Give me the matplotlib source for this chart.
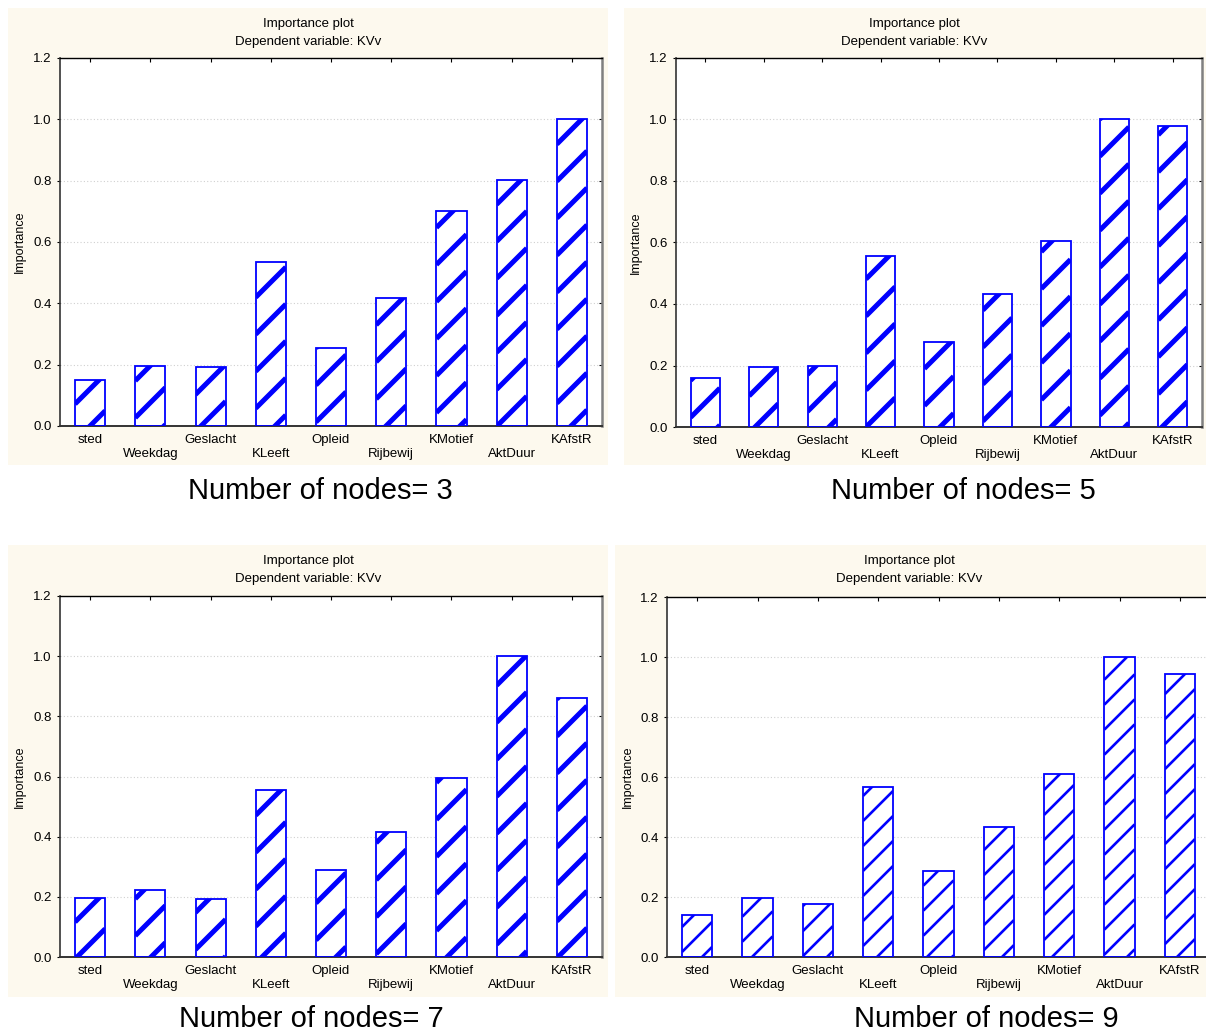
import matplotlib
matplotlib.use("Agg")
import matplotlib.pyplot as plt
import matplotlib.lines as mlines
from matplotlib.lines import Line2D
from matplotlib.patches import Rectangle
from matplotlib.transforms import IdentityTransform
import numpy as np

plt.rcParams['font.family'] = ['Liberation Sans', 'DejaVu Sans']

# Predictor importance per tree size
variables = ["sted", "Weekdag", "Geslacht", "KLeeft", "Opleid",
             "Rijbewij", "KMotief", "AktDuur", "KAfstR"]
imp_nodes3 = [0.150, 0.196, 0.192, 0.535, 0.254, 0.417, 0.700, 0.802, 1.000]
imp_nodes5 = [0.159, 0.195, 0.200, 0.556, 0.276, 0.432, 0.605, 1.000, 0.980]
imp_nodes7 = [0.196, 0.223, 0.193, 0.555, 0.289, 0.416, 0.595, 1.000, 0.861]
imp_nodes9 = [0.140, 0.197, 0.177, 0.567, 0.287, 0.433, 0.610, 1.000, 0.943]
node_counts = [3, 5, 7, 9]
yticks = [0.0, 0.2, 0.4, 0.6, 0.8, 1.0, 1.2]

W, H = 1206, 1034
CREAM = "#fdf9ee"
BLUE = "#0000ff"

# panel layout in pixels: background box, axes box, caption centre, hatch period / width
panels = [
    dict(values=imp_nodes3, bg=(8, 8, 608, 465), ax=(60, 58, 602, 426),
         cap=(320, 491), ylab=20, period=37, hlw=3.6),
    dict(values=imp_nodes5, bg=(624, 8, 1210, 465), ax=(676, 58, 1202, 427),
         cap=(963, 491), ylab=636, period=37, hlw=3.6),
    dict(values=imp_nodes7, bg=(8, 545, 608, 997), ax=(60, 596, 602, 957),
         cap=(311, 1019), ylab=20, period=37, hlw=3.6),
    dict(values=imp_nodes9, bg=(615, 545, 1210, 997), ax=(667, 597, 1210, 957),
         cap=(986, 1019), ylab=628, period=25, hlw=1.9),
]

fig = plt.figure(figsize=(W / 100, H / 100), dpi=100)
fig.patch.set_facecolor("white")


def fig_rect(x0, y0, x1, y1):
    return [x0 / W, 1 - y1 / H, (x1 - x0) / W, (y1 - y0) / H]


def hatch_bars(ax, bars, period, lw, slope=1.0):
    # diagonal stripes clipped to each bar, laid out in pixel space
    for b in bars:
        (px0, py0), (px1, py1) = ax.transData.transform(
            [[b.get_x(), b.get_y()], [b.get_x() + b.get_width(), b.get_y() + b.get_height()]])
        cmin = py0 - slope * px1
        cmax = py1 - slope * px0
        for k in range(int(np.floor(cmin / period)) - 1, int(np.ceil(cmax / period)) + 2):
            c = k * period
            ln = Line2D([px0, px1], [slope * px0 + c, slope * px1 + c],
                        transform=IdentityTransform(), color=BLUE, lw=lw,
                        solid_capstyle="butt", zorder=2.5)
            ax.add_artist(ln)
            ln.set_clip_path(b)


x = np.arange(len(variables))
tick_labels = [v if i % 2 == 0 else "\n" + v for i, v in enumerate(variables)]

for n, p in zip(node_counts, panels):
    bx0, by0, bx1, by1 = p["bg"]
    fig.add_artist(Rectangle((bx0 / W, 1 - by1 / H), (bx1 - bx0) / W, (by1 - by0) / H,
                             transform=fig.transFigure, facecolor=CREAM,
                             edgecolor="none", zorder=0))

    ax = fig.add_axes(fig_rect(*p["ax"]))
    ax.set_facecolor("white")
    ax.set_xlim(-0.5, 8.5)
    ax.set_ylim(0, 1.2)
    ax.set_autoscale_on(False)

    bars = ax.bar(x, p["values"], width=0.5, color="white", edgecolor="none", zorder=2)
    hatch_bars(ax, bars, p["period"], p["hlw"])
    ax.bar(x, p["values"], width=0.5, fill=False, edgecolor=BLUE, lw=1.3, zorder=3)

    ax.set_axisbelow(True)
    ax.yaxis.grid(True, linestyle=(0, (1, 2)), color="#d0d0d0", lw=0.8)

    ax.set_yticks(yticks)
    ax.set_yticklabels([f"{t:.1f}" for t in yticks], fontsize=9.5)
    ax.set_xticks(x)
    ax.set_xticklabels(tick_labels, fontsize=9.5, linespacing=1.15)
    ax.tick_params(axis="x", direction="in", length=3, width=0.8, top=True, pad=6)
    ax.tick_params(axis="y", direction="out", length=2.5, width=0.8, right=True, pad=3.5)
    # right-hand y ticks point inwards
    for t in ax.yaxis.get_major_ticks():
        t.tick2line.set_marker(mlines.TICKLEFT)

    ax.spines["top"].set_color("black")
    ax.spines["top"].set_linewidth(1.0)
    ax.spines["left"].set_color("#333333")
    ax.spines["left"].set_linewidth(1.2)
    ax.spines["bottom"].set_color("#333333")
    ax.spines["bottom"].set_linewidth(1.4)
    ax.spines["right"].set_color("#808080")
    ax.spines["right"].set_linewidth(1.8)

    cx = (bx0 + min(bx1, 1204)) / 2
    fig.text(cx / W, 1 - (by0 + 16) / H, "Importance plot", ha="center", va="center", fontsize=9.5)
    fig.text(cx / W, 1 - (by0 + 34) / H, "Dependent variable: KVv", ha="center", va="center", fontsize=9.5)

    ay0, ay1 = p["ax"][1], p["ax"][3]
    fig.text(p["ylab"] / W, 1 - (ay0 + ay1) / 2 / H, "Importance", rotation=90,
             ha="center", va="center", fontsize=9)

    fig.text(p["cap"][0] / W, 1 - p["cap"][1] / H, f"Number of nodes= {n}",
             ha="center", va="center", fontsize=21)

fig.savefig("out.png", dpi=100, facecolor="white")
